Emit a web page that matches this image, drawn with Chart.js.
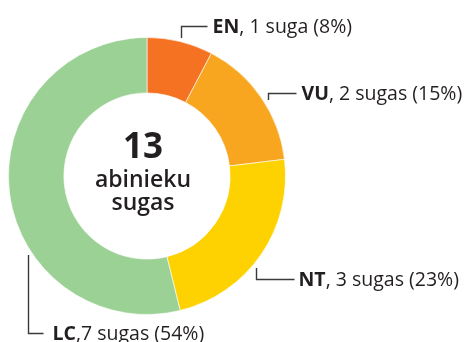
<!DOCTYPE html>
<html lang="lv">
<head>
<meta charset="utf-8">
<script src="https://cdn.jsdelivr.net/npm/chart.js@4/dist/chart.umd.min.js"></script>
<style>
    html, body { margin: 0; padding: 0; background: #fff; }
    #wrap { width: 466px; height: 342px; position: relative; }
</style>
</head>
<body>
<div id="wrap"><canvas id="donut" width="466" height="342"></canvas></div>
<script>
// IUCN categories and species counts
const codes = ['EN', 'VU', 'NT', 'LC'];
const counts = [1, 2, 3, 7];
const units = ['suga', 'sugas', 'sugas', 'sugas'];
const colors = ['#f47221', '#f8a51f', '#fed200', '#9cd195'];

const centerTitle = '13';
const centerLines = ['abinieku', 'sugas'];

const ink = '#231f20';
const fontFamily = '"Open Sans", "Noto Sans", sans-serif';

// leader line layout per label: angle on the ring (deg from top), hook length, line length, text gap
const leaders = [
    { angle: 14, hook: -12, run: 26, gap: 5, sep: ', ' },
    { angle: 58, hook: -7, run: 28, gap: 5, sep: ', ' },
    { angle: 130, hook: 11, run: 38, gap: 4, sep: ', ' },
    { angle: 236.5, hook: 78, run: 15, gap: 9, sep: ',' }
];

const total = counts.reduce((a, b) => a + b, 0);

const labelPlugin = {
    id: 'calloutLabels',
    afterDraw(chart) {
        const ctx = chart.ctx;
        const arc = chart.getDatasetMeta(0).data[0];
        const { x, y, outerRadius } = arc.getProps(['x', 'y', 'outerRadius'], true);

        ctx.save();
        ctx.strokeStyle = '#3a3a3a';
        ctx.lineWidth = 1.4;
        ctx.fillStyle = ink;
        ctx.textBaseline = 'middle';

        leaders.forEach((l, i) => {
            const a = (l.angle - 90) * Math.PI / 180;
            const r = outerRadius + 4;
            const ax = Math.round(x + Math.cos(a) * r) + 0.5;
            const ay = Math.round(y + Math.sin(a) * r);
            const ly = ay + l.hook + 0.5;
            const ex = ax + l.run;

            ctx.beginPath();
            ctx.moveTo(ax, ay);
            ctx.lineTo(ax, ly);
            ctx.lineTo(ex, ly);
            ctx.stroke();

            const pct = Math.round(counts[i] / total * 100);
            let tx = ex + l.gap;
            ctx.font = `bold 19.5px ${fontFamily}`;
            ctx.fillText(codes[i], tx, ly + 1);
            tx += ctx.measureText(codes[i]).width;
            ctx.font = `19.5px ${fontFamily}`;
            ctx.fillText(`${l.sep}${counts[i]} ${units[i]} (${pct}%)`, tx, ly + 1);
        });

        // centre caption
        const cx = x - 4;
        ctx.textAlign = 'center';
        ctx.textBaseline = 'alphabetic';
        ctx.font = `bold 35px ${fontFamily}`;
        ctx.fillText(centerTitle, cx, 158);
        ctx.font = `600 23px ${fontFamily}`;
        ctx.fillText(centerLines[0], cx, 187);
        ctx.fillText(centerLines[1], cx, 210);
        ctx.restore();
    }
};

new Chart(document.getElementById('donut'), {
    type: 'doughnut',
    data: {
        labels: codes,
        datasets: [{
            data: counts,
            backgroundColor: colors,
            borderColor: 'rgba(255,255,255,0.6)',
            borderWidth: 1
        }]
    },
    options: {
        responsive: false,
        animation: false,
        cutout: '60%',
        layout: { padding: { left: 8, top: 37, right: 180, bottom: 27 } },
        plugins: {
            legend: { display: false },
            tooltip: { enabled: false }
        }
    },
    plugins: [labelPlugin]
});
</script>
</body>
</html>
